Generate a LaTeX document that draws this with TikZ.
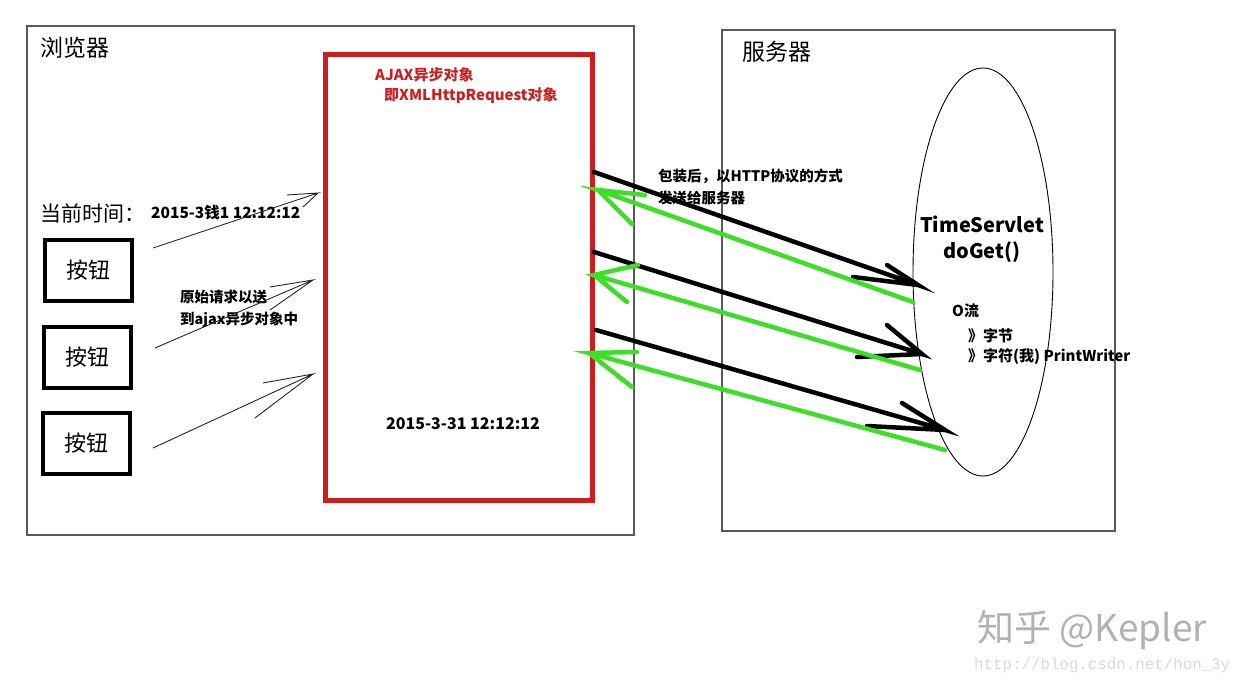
\documentclass[tikz,border=0pt]{standalone}
\usepackage{fontspec}
\usetikzlibrary{shapes.geometric}
\setmainfont{Noto Sans CJK SC}
\newfontfamily\urlfont{Liberation Mono}

\definecolor{boxred}{RGB}{204,30,30}
\definecolor{backgreen}{RGB}{60,222,40}

\tikzset{
  frame/.style={draw=black!65, line width=1.3pt},
  btn/.style={draw, line width=4pt, minimum width=87pt, minimum height=61pt,
    inner sep=0pt, font=\fontsize{22}{24}\selectfont},
  ajaxbox/.style={draw=boxred, line width=5pt, minimum width=267pt,
    minimum height=446pt, inner sep=0pt},
  thinarrow/.style={draw=black!85, line width=0.9pt},
  reqarrow/.style={draw=black, line width=4.5pt, line cap=round},
  resarrow/.style={draw=backgreen, line width=4.5pt, line cap=round},
  lbl/.style={font=\bfseries\fontsize{15}{18}\selectfont, anchor=west, inner sep=0pt},
  title/.style={font=\fontsize{23}{25}\selectfont, anchor=west, inner sep=0pt}
}

\begin{document}
\begin{tikzpicture}[x=1pt,y=-1pt]
\useasboundingbox (0,0) rectangle (1240,685);

% browser side
\draw [frame] (27,26) rectangle (634,535);
\node [title] (browser) at (40,48) {浏览器};

\node [ajaxbox] (ajax) at (459,277.5) {};
\node [lbl, text=boxred] (ajaxname) at (375,75) {AJAX异步对象};
\node [lbl, text=boxred] (xhrname) at (384,96) {即XMLHttpRequest对象};
\node [lbl, anchor=center, font=\bfseries\fontsize{16}{18}\selectfont] (result) at (463,424) {2015-3-31 12:12:12};

\node [title, font=\fontsize{21}{23}\selectfont] (nowlabel) at (40,213) {当前时间：};
\node [lbl, font=\bfseries\fontsize{15.5}{18}\selectfont] (nowvalue) at (151,213) {2015-3钱1 12:12:12};

\node [btn] (btn1) at (88.5,270.5) {按钮};
\node [btn] (btn2) at (87.5,357) {按钮};
\node [btn] (btn3) at (86.5,443) {按钮};

\node [lbl, align=left, font=\bfseries\fontsize{14.5}{22}\selectfont] (sendnote) at (180,309) {原始请求以送\\到ajax异步对象中};

% hand drawn arrows, buttons -> ajax
\coordinate (from1) at (153,248);
\coordinate (to1) at (318,193);
\coordinate (from2) at (155,348);
\coordinate (to2) at (313,280);
\coordinate (from3) at (153,448);
\coordinate (to3) at (313,374);

\draw [thinarrow] (from1) -- (to1) -- (287,195) (to1) -- (303,207);
\draw [thinarrow] (from2) -- (to2) -- (270,287) (to2) -- (270,310);
\draw [thinarrow] (from3) -- (to3) -- (263,383) (to3) -- (255,418);

% server side
\draw [frame] (722,30) rectangle (1115,531);
\node [title] (server) at (742,52) {服务器};

\node [draw, ellipse, line width=0.9pt, minimum width=140pt, minimum height=408pt,
  inner sep=0pt] (servlet) at (983,272) {};
\node [lbl, anchor=center, align=center, font=\bfseries\fontsize{20}{26}\selectfont]
  (servletname) at (982,239) {TimeServlet\\doGet()};
\node [lbl] (ioname) at (952,311) {O流};
\node [lbl] (bytes) at (968,336) {》字节};
\node [lbl] (chars) at (968,357) {》字符(我) PrintWriter};

\node [lbl, align=left, font=\bfseries\fontsize{14.5}{22}\selectfont] (wrapnote) at (658,187) {包装后，以HTTP协议的方式\\发送给服务器};

% requests (black) and responses (green)
\coordinate (req1) at (594,172);
\coordinate (hit1) at (918,285);
\coordinate (req2) at (594,252);
\coordinate (hit2) at (922,354);
\coordinate (req3) at (596,330);
\coordinate (hit3) at (945,430);

\coordinate (res1) at (913,302);
\coordinate (back1) at (598,190);
\coordinate (res2) at (920,370);
\coordinate (back2) at (594,275);
\coordinate (res3) at (945,450);
\coordinate (back3) at (589,353);

\draw [reqarrow] (req1) -- (hit1) -- (887,265) (hit1) -- (853,277);
\draw [reqarrow] (req2) -- (hit2) -- (887,325) (hit2) -- (857,357);
\draw [reqarrow] (req3) -- (hit3) -- (902,403) (hit3) -- (867,426);

\draw [resarrow] (res1) -- (back1) -- (645,195) (back1) -- (632,224);
\draw [resarrow] (res2) -- (back2) -- (638,265) (back2) -- (627,302);
\draw [resarrow] (res3) -- (back3) -- (637,352) (back3) -- (632,387);

% watermark
\node [inner sep=0pt, anchor=west, text=black!30, font=\fontsize{37}{39}\selectfont]
  (mark) at (977,630) {知乎 @Kepler};
\node [inner sep=0pt, anchor=west, text=black!15, font=\urlfont\fontsize{15.8}{17}\selectfont]
  (url) at (974,665) {http://blog.csdn.net/hon\_3y};

\end{tikzpicture}
\end{document}
